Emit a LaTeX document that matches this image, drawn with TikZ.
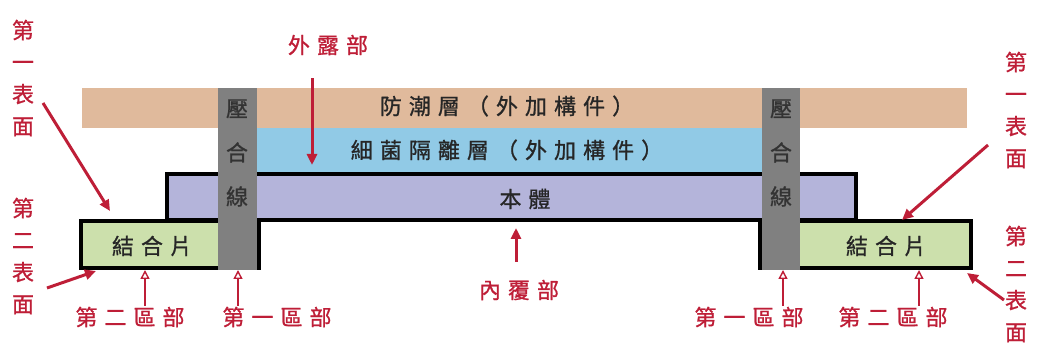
\documentclass[tikz,border=0pt]{standalone}
\usepackage{fontspec}
\setmainfont[FakeBold=1]{Noto Sans CJK TC}
\newfontfamily\spacedfont[LetterSpace=32,FakeBold=1]{Noto Sans CJK TC}
\usepackage{tikz}
\usetikzlibrary{arrows.meta,positioning}
\definecolor{moistcolor}{RGB}{224,186,156}
\definecolor{barriercolor}{RGB}{145,202,230}
\definecolor{bodycolor}{RGB}{180,180,218}
\definecolor{jointcolor}{RGB}{204,224,172}
\definecolor{presscolor}{RGB}{128,128,128}
\definecolor{labelred}{RGB}{190,30,55}

\tikzset{
  layertext/.style={font=\spacedfont\fontsize{22}{26}\selectfont, text=black!85, inner sep=0pt},
  redlabel/.style={font=\spacedfont\fontsize{22}{26}\selectfont, text=labelred, inner sep=1pt},
  vertlabel/.style={font=\fontsize{22}{32}\selectfont, text=labelred, align=center, inner sep=0pt},
  pressname/.style={font=\fontsize{22}{44}\selectfont, text=black!80, align=center, inner sep=0pt},
  redarrow/.style={draw=labelred, line width=3pt, -{Triangle[length=11pt,width=10pt]}},
  zonearrow/.style={draw=labelred, line width=1.4pt, -{Triangle[open,length=9pt,width=9pt]}}
}

\begin{document}
\begin{tikzpicture}[x=1pt, y=-1pt]
        \useasboundingbox (0,0) rectangle (1037,347);

        % Layers
        \fill[moistcolor] (82,88) rectangle (967,128);
        \fill[barriercolor] (257,128) rectangle (762,173);
        \draw[line width=3.5pt, fill=bodycolor] (167,174) rectangle (856,220);
        \draw[line width=3.5pt, fill=jointcolor] (81,221) rectangle (259,268);
        \draw[line width=3.5pt, fill=jointcolor] (760,221) rectangle (971,268);

        % Press lines
        \fill[presscolor] (218,88) rectangle (257,270);
        \fill[presscolor] (762,88) rectangle (800,270);

        % Layer texts
        \node[layertext] (moist) at (507,106) {防潮層（外加構件）};
        \node[layertext] (barrier) at (507,150) {細菌隔離層（外加構件）};
        \node[layertext] (body) at (525,199) {本體};
        \node[layertext] (jointL) at (152,246) {結合片};
        \node[layertext] (jointR) at (886,246) {結合片};
        \node[pressname] (pressL) at (237,153) {壓\\合\\線};
        \node[pressname] (pressR) at (781,153) {壓\\合\\線};

        % Red labels
        \node[redlabel] (expo) at (328,45) {外露部};
        \node[redlabel] (inner) at (519,290) {內覆部};
        \node[redlabel] (zoneTwoL) at (130,317) {第二區部};
        \node[redlabel] (zoneOneL) at (277,317) {第一區部};
        \node[redlabel] (zoneOneR) at (749,317) {第一區部};
        \node[redlabel] (zoneTwoR) at (893,317) {第二區部};
        \node[vertlabel] (firstL) at (23,78) {第\\一\\表\\面};
        \node[vertlabel] (secondL) at (23,256) {第\\二\\表\\面};
        \node[vertlabel] (firstR) at (1016,110) {第\\一\\表\\面};
        \node[vertlabel] (secondR) at (1016,284) {第\\二\\表\\面};

        % Arrow ends
        \coordinate (firstLtail) at (43,103);
        \coordinate (firstLtip) at (110,211);
        \coordinate (secondLtail) at (47,288);
        \coordinate (secondLtip) at (96,271);
        \coordinate (firstRtail) at (988,145);
        \coordinate (firstRtip) at (902,220);
        \coordinate (secondRtail) at (1004,300);
        \coordinate (secondRtip) at (967,273);
        \coordinate (expoTip) at (312,165);
        \coordinate (innerTip) at (516,228);

        % Arrows
        \draw[redarrow] (firstLtail) -- (firstLtip);
        \draw[redarrow] (secondLtail) -- (secondLtip);
        \draw[redarrow] (firstRtail) -- (firstRtip);
        \draw[redarrow] (secondRtail) -- (secondRtip);
        \draw[redarrow] (expo.south -| expoTip) ++(0,22) -- (expoTip);
        \draw[redarrow] (inner.north -| innerTip) ++(0,-17) -- (innerTip);
        \foreach \lab/\x in {zoneTwoL/145, zoneOneL/238, zoneOneR/783, zoneTwoR/919}
          \draw[zonearrow] (\lab.north -| \x,0) -- (\x,270);
      \end{tikzpicture}
\end{document}
